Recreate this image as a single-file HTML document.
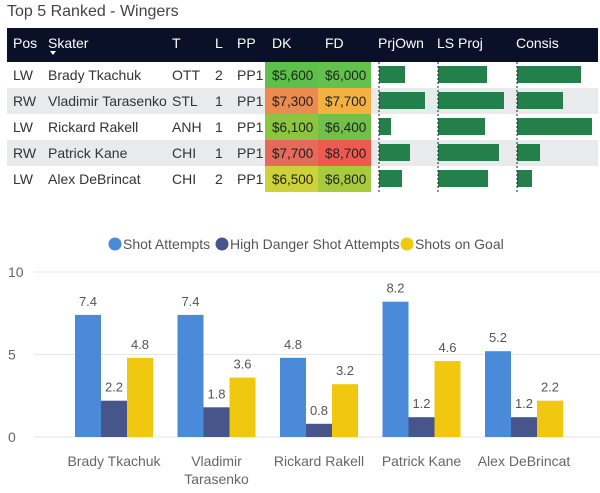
<!DOCTYPE html>
<html><head><meta charset="utf-8"><style>
body{margin:0;width:600px;height:493px;background:#fff;font-family:"Liberation Sans",sans-serif;overflow:hidden;position:relative}
.t{position:absolute;white-space:nowrap}
</style></head><body>
<div class="t" style="left:7px;top:3px;font-size:16px;color:#444">Top 5 Ranked - Wingers</div>
<svg id="tbl" width="600" height="200" style="position:absolute;left:0;top:0"></svg>
<svg id="ch" width="600" height="493" style="position:absolute;left:0;top:0"></svg>
<script>
const NS='http://www.w3.org/2000/svg';
function mk(p,t,a,txt){const e=document.createElementNS(NS,t);for(const k in a)e.setAttribute(k,a[k]);if(txt!==undefined)e.textContent=txt;p.appendChild(e);return e;}
// table data
const pos=['LW','RW','LW','RW','LW'];
const skaters=['Brady Tkachuk','Vladimir Tarasenko','Rickard Rakell','Patrick Kane','Alex DeBrincat'];
const teams=['OTT','STL','ANH','CHI','CHI'];
const lines=['2','1','1','1','2'];
const pps=['PP1','PP1','PP1','PP1','PP1'];
const dk=['$5,600','$7,300','$6,100','$7,700','$6,500'];
const fd=['$6,000','$7,700','$6,400','$8,700','$6,800'];
const dkCol=['#5cc04a','#ec8b50','#8cc53f','#e46a5a','#cdd23a'];
const fdCol=['#62c24c','#f4b040','#70c04a','#ef5a50','#a8cb3e'];
const prjOwn=[26,46,12,31,23];
const lsProj=[49,66,47,61,50];
const consis=[64,46,75,23,15];
const T=document.getElementById('tbl');
let r=mk(T,'rect',{x:7,y:28,width:591,height:34,fill:'#0b1029'});

const hdr=[['Pos',13],['Skater',48],['T',172],['L',215],['PP',237],['DK',272],['FD',325],['PrjOwn',378],['LS Proj',437],['Consis',516]];
hdr.forEach(h=>{const e=mk(T,'text',{x:h[1],y:48,fill:'#fff','font-size':14},h[0]);
});
mk(T,'path',{d:'M50 51 L56 51 L53 55 Z',fill:'#fff'});
for(let i=0;i<5;i++){
 const y=62+i*26;
 const row=mk(T,'rect',{x:7,y:y,width:591,height:26,fill:i%2?'#e9eaeb':'#fff'});
 
 const ty=y+18;
 [[pos[i],13],[skaters[i],48],[teams[i],172],[lines[i],215],[pps[i],237]].forEach(c=>mk(T,'text',{x:c[1],y:ty,fill:'#333','font-size':14},c[0]));
 const d=mk(T,'rect',{x:265,y:y,width:53,height:26,fill:dkCol[i]});
 
 const f=mk(T,'rect',{x:318,y:y,width:53,height:26,fill:fdCol[i]});
 
 mk(T,'text',{x:272,y:ty,fill:'#222','font-size':13.5},dk[i]);
 mk(T,'text',{x:325,y:ty,fill:'#222','font-size':13.5},fd[i]);
 [[prjOwn,379],[lsProj,438],[consis,517]].forEach(b=>{
  const e=mk(T,'rect',{x:b[1],y:y+4,width:b[0][i],height:17,fill:'#23804a'});
  
 });
}
[379,438,517].forEach(x=>mk(T,'line',{x1:x,y1:62,x2:x,y2:192,stroke:'#222','stroke-dasharray':'2,2'}));
// chart data
const players=[['Brady Tkachuk'],['Vladimir','Tarasenko'],['Rickard Rakell'],['Patrick Kane'],['Alex DeBrincat']];
const shotAttempts=[7.4,7.4,4.8,8.2,5.2];
const hdShots=[2.2,1.8,0.8,1.2,1.2];
const shotsOnGoal=[4.8,3.6,3.2,4.6,2.2];
const yTicks=[0,5,10];
const seriesNames=['Shot Attempts','High Danger Shot Attempts','Shots on Goal'];
const colors=['#4a8ad8','#46568a','#efc80f'];
const C=document.getElementById('ch');
const y0=437,yScale=v=>y0-v*16.5;
const xCenter=i=>114+i*102.5;
yTicks.forEach(t=>{
 mk(C,'line',{x1:34,x2:600,y1:yScale(t),y2:yScale(t),stroke:'#e6e6e6'});
 const e=mk(C,'text',{x:8,y:yScale(t)+5,fill:'#666','font-size':14},t);
 
});
const series=[shotAttempts,hdShots,shotsOnGoal];
series.forEach((s,k)=>s.forEach((v,i)=>{
 const x=xCenter(i)-39+k*26;
 const b=mk(C,'rect',{x:x,y:yScale(v),width:26,height:v*16.5,fill:colors[k]});
 
 const l=mk(C,'text',{x:x+13,y:yScale(v)-9,fill:'#555','font-size':13,'text-anchor':'middle'},v.toFixed(1));
 
}));
players.forEach((p,i)=>p.forEach((ln,j)=>{
 const e=mk(C,'text',{x:xCenter(i),y:466+j*18,fill:'#666','font-size':14,'text-anchor':'middle'},ln);
 
}));
const lx=[115,222,407];
seriesNames.forEach((n,k)=>{
 const c=mk(C,'circle',{cx:lx[k],cy:244,r:6.5,fill:colors[k]});
 
 const e=mk(C,'text',{x:lx[k]+8,y:249,fill:'#555','font-size':14},n);
 
});
</script>
</body></html>
